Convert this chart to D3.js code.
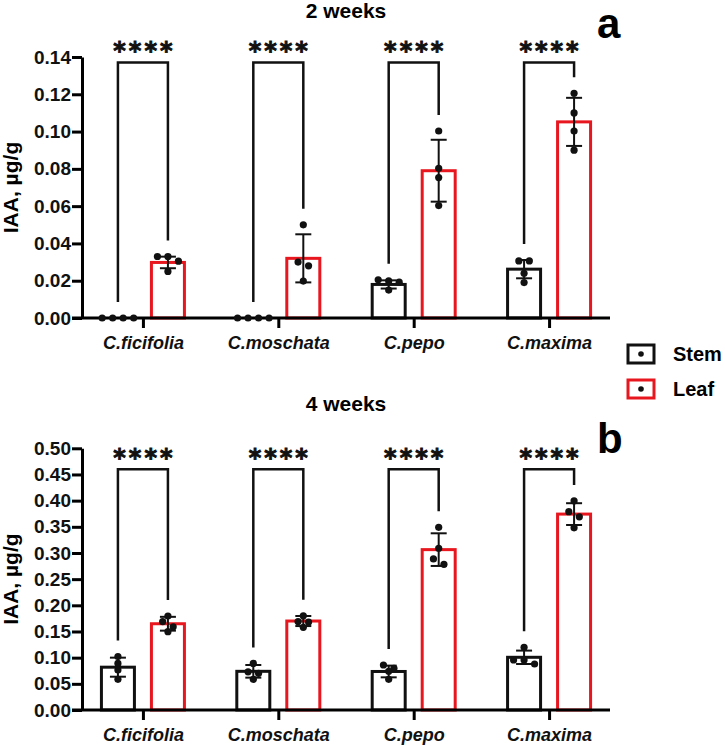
<!DOCTYPE html>
<html>
<head>
<meta charset="utf-8">
<script src="https://cdn.jsdelivr.net/npm/d3@7"></script>
<style>
  body { margin: 0; background: #fff; }
  svg { display: block; font-family: "Liberation Sans", Arial, sans-serif; }
</style>
</head>
<body>
<div id="chart"></div>
<script>
// Data (mean, SD and the four replicate points)
const categories = ['C.ficifolia', 'C.moschata', 'C.pepo', 'C.maxima'];
const series = ['Stem', 'Leaf'];

// 2 weeks
const stem2Mean = [0, 0, 0.018, 0.0262];
const stem2Sd = [0, 0, 0.0022, 0.0049];
const stem2Points = [[0, 0, 0, 0], [0, 0, 0, 0], [0.0205, 0.0199, 0.0192, 0.015], [0.0306, 0.0306, 0.024, 0.019]];
const leaf2Mean = [0.0298, 0.032, 0.079, 0.1052];
const leaf2Sd = [0.0031, 0.0129, 0.0166, 0.0129];
const leaf2Points = [[0.033, 0.0305, 0.033, 0.025], [0.050, 0.030, 0.028, 0.0198], [0.1003, 0.0803, 0.0753, 0.0603], [0.1205, 0.110, 0.1003, 0.090]];

// 4 weeks
const stem4Mean = [0.0818, 0.0739, 0.0736, 0.1007];
const stem4Sd = [0.0182, 0.0121, 0.0112, 0.0128];
const stem4Points = [[0.102, 0.089, 0.0764, 0.0586], [0.089, 0.073, 0.070, 0.0586], [0.086, 0.0796, 0.074, 0.0586], [0.1198, 0.0955, 0.0955, 0.0879]];
const leaf4Mean = [0.1648, 0.170, 0.3064, 0.3743];
const leaf4Sd = [0.0132, 0.0096, 0.0312, 0.0208];
const leaf4Points = [[0.1796, 0.169, 0.159, 0.1497], [0.18, 0.169, 0.168, 0.158], [0.349, 0.309, 0.2886, 0.2783], [0.3994, 0.379, 0.369, 0.348]];

const yTicks2 = [0, 0.02, 0.04, 0.06, 0.08, 0.10, 0.12, 0.14];
const yTicks4 = [0, 0.05, 0.10, 0.15, 0.20, 0.25, 0.30, 0.35, 0.40, 0.45, 0.50];
const significance = ['****', '****', '****', '****'];

const colors = { Stem: '#111', Leaf: '#e8161e' };

const width = 725;
const height = 746;
const svg = d3.select('#chart').append('svg')
  .attr('width', width)
  .attr('height', height);

const axisLeftX = 82;
const axisRightX = 610;
const tickLen = 10;
const barWidth = 33;

const x = d3.scalePoint().domain(categories).range([axisLeftX, axisRightX]).padding(0.45);
const xSub = d3.scalePoint().domain(series).range([-25, 25]);

// spread points that sit at the same height side by side
function layoutPoints(vals, y) {
  const sorted = vals.map(v => ({ v, py: y(v) })).sort((a, b) => a.py - b.py);
  const rows = [];
  sorted.forEach(p => {
    const row = rows[rows.length - 1];
    if (row && Math.abs(p.py - row[0].py) < 5.5) row.push(p);
    else rows.push([p]);
  });
  rows.forEach(row => row.forEach((p, i) => { p.dx = (i - (row.length - 1) / 2) * 10.5; }));
  return sorted;
}

function drawPanel(cfg) {
  const y = d3.scaleLinear().domain([0, cfg.yMax]).range([cfg.bottom, cfg.top]);
  const g = svg.append('g');

  const groups = categories.map((c, i) => ({
    cat: c,
    Stem: { mean: cfg.stemMean[i], sd: cfg.stemSd[i], pts: cfg.stemPoints[i] },
    Leaf: { mean: cfg.leafMean[i], sd: cfg.leafSd[i], pts: cfg.leafPoints[i] },
  }));

  // title + panel letter
  g.append('text')
    .attr('x', (axisLeftX + axisRightX) / 2)
    .attr('y', cfg.titleY)
    .attr('text-anchor', 'middle')
    .attr('font-size', 21)
    .attr('font-weight', 'bold')
    .text(cfg.title);

  g.append('text')
    .attr('x', 597)
    .attr('y', cfg.letterY)
    .attr('font-size', 42)
    .attr('font-weight', 'bold')
    .text(cfg.letter);

  // bars
  series.forEach(s => {
    g.append('g').selectAll('rect')
      .data(groups.filter(d => d[s].mean > 0))
      .enter()
      .append('rect')
      .attr('x', d => x(d.cat) + xSub(s) - barWidth / 2)
      .attr('y', d => y(d[s].mean))
      .attr('width', barWidth)
      .attr('height', d => y(0) - y(d[s].mean))
      .attr('fill', '#fff')
      .attr('stroke', colors[s])
      .attr('stroke-width', 3);
  });

  // axes
  const yAxis = d3.axisLeft(y)
    .tickValues(cfg.yTicks)
    .tickSize(tickLen)
    .tickSizeOuter(0)
    .tickPadding(1)
    .tickFormat(d3.format('.2f'));

  const yg = g.append('g')
    .attr('transform', `translate(${axisLeftX}, 0)`)
    .call(yAxis);
  yg.select('.domain').attr('stroke-width', 3);
  yg.selectAll('.tick line').attr('stroke-width', 3);
  yg.selectAll('.tick text')
    .attr('font-size', 19)
    .attr('font-weight', 'bold')
    .attr('font-family', '"Liberation Sans", Arial, sans-serif')
    .attr('fill', '#111');

  const xAxis = d3.axisBottom(x)
    .tickSize(tickLen)
    .tickSizeOuter(0)
    .tickPadding(8);

  const xg = g.append('g')
    .attr('transform', `translate(0, ${cfg.bottom})`)
    .call(xAxis);
  xg.select('.domain').remove();
  xg.selectAll('.tick line').attr('stroke-width', 3);
  xg.selectAll('.tick text')
    .attr('font-size', 18)
    .attr('font-weight', 'bold')
    .attr('font-style', 'italic')
    .attr('font-family', '"Liberation Sans", Arial, sans-serif')
    .attr('fill', '#111');

  g.append('line')
    .attr('x1', axisLeftX - tickLen)
    .attr('x2', axisRightX)
    .attr('y1', y(0))
    .attr('y2', y(0))
    .attr('stroke', '#000')
    .attr('stroke-width', 3);

  g.append('text')
    .attr('transform', `translate(18, ${(cfg.top + cfg.bottom) / 2}) rotate(-90)`)
    .attr('text-anchor', 'middle')
    .attr('font-size', 21)
    .attr('font-weight', 'bold')
    .text('IAA, µg/g');

  // error bars (mean ± SD)
  series.forEach(s => {
    const eb = g.append('g').selectAll('g')
      .data(groups.filter(d => d[s].sd > 0))
      .enter()
      .append('g')
      .attr('stroke', '#111')
      .attr('stroke-width', 2);
    eb.append('line')
      .attr('x1', d => x(d.cat) + xSub(s))
      .attr('x2', d => x(d.cat) + xSub(s))
      .attr('y1', d => y(d[s].mean - d[s].sd))
      .attr('y2', d => y(d[s].mean + d[s].sd));
    [-1, 1].forEach(sign => {
      eb.append('line')
        .attr('x1', d => x(d.cat) + xSub(s) - 8)
        .attr('x2', d => x(d.cat) + xSub(s) + 8)
        .attr('y1', d => y(d[s].mean + sign * d[s].sd))
        .attr('y2', d => y(d[s].mean + sign * d[s].sd));
    });
  });

  // replicate points
  series.forEach(s => {
    groups.forEach(d => {
      g.append('g').selectAll('circle')
        .data(layoutPoints(d[s].pts, y))
        .enter()
        .append('circle')
        .attr('cx', p => x(d.cat) + xSub(s) + p.dx)
        .attr('cy', p => p.py)
        .attr('r', 3.6)
        .attr('fill', '#111');
    });
  });

  // significance brackets
  const topOf = v => Math.min(y(v.mean + v.sd), ...v.pts.map(y));
  groups.forEach((d, i) => {
    const yb = y(cfg.bracket);
    const xl = x(d.cat) + xSub('Stem');
    const xr = x(d.cat) + xSub('Leaf');
    g.append('path')
      .attr('d', `M${xl},${topOf(d.Stem) - 16}V${yb}H${xr}V${topOf(d.Leaf) - 16}`)
      .attr('fill', 'none')
      .attr('stroke', '#111')
      .attr('stroke-width', 2.5);
    g.append('text')
      .attr('x', x(d.cat) + 1.5)
      .attr('y', yb - 3.5)
      .attr('text-anchor', 'middle')
      .attr('font-family', '"DejaVu Sans", sans-serif')
      .attr('font-weight', 'bold')
      .attr('font-size', 24)
      .attr('letter-spacing', 3)
      .attr('fill', '#111')
      .attr('stroke', '#111')
      .attr('stroke-width', 0.9)
      .text(significance[i]);
  });
}

drawPanel({
  title: '2 weeks', titleY: 18, letter: 'a', letterY: 38,
  top: 57, bottom: 318, yMax: 0.14, yTicks: yTicks2, bracket: 0.137,
  stemMean: stem2Mean, stemSd: stem2Sd, stemPoints: stem2Points,
  leafMean: leaf2Mean, leafSd: leaf2Sd, leafPoints: leaf2Points,
});

drawPanel({
  title: '4 weeks', titleY: 411, letter: 'b', letterY: 453,
  top: 448.3, bottom: 710, yMax: 0.5, yTicks: yTicks4, bracket: 0.46,
  stemMean: stem4Mean, stemSd: stem4Sd, stemPoints: stem4Points,
  leafMean: leaf4Mean, leafSd: leaf4Sd, leafPoints: leaf4Points,
});

// legend
const legend = svg.append('g').attr('transform', 'translate(628, 345)');
const items = legend.selectAll('g')
  .data(series)
  .enter()
  .append('g')
  .attr('transform', (d, i) => `translate(0, ${i * 35})`);
items.append('rect')
  .attr('width', 26)
  .attr('height', 18)
  .attr('fill', '#fff')
  .attr('stroke', d => colors[d])
  .attr('stroke-width', 3);
items.append('circle')
  .attr('cx', 13)
  .attr('cy', 9)
  .attr('r', 2.8)
  .attr('fill', '#111');
items.append('text')
  .attr('x', 45)
  .attr('y', 16)
  .attr('font-size', 20)
  .attr('font-weight', 'bold')
  .text(d => d);
</script>
</body>
</html>
